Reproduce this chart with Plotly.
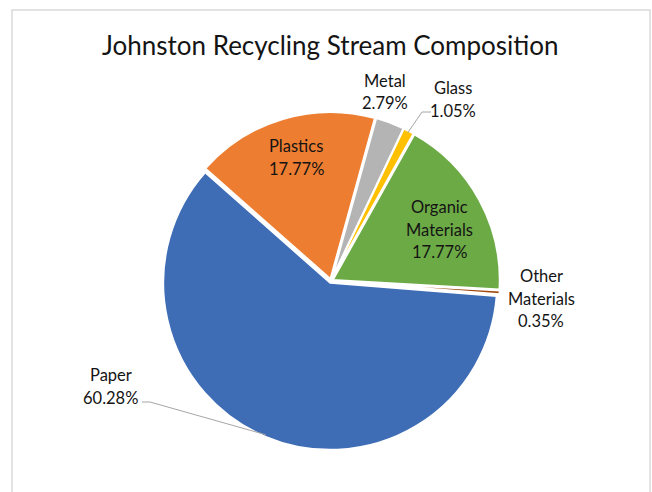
import math
import plotly.graph_objects as go

# Recycling stream composition (percent of total), clockwise from Paper
categories = ["Paper", "Plastics", "Metal", "Glass", "Organic Materials", "Other Materials"]
shares = [60.28, 17.77, 2.79, 1.05, 17.77, 0.35]
colors = ["#3E6DB5", "#ED7D31", "#B4B4B4", "#FFC000", "#6CAA46", "#9E480E"]

W, H = 652, 492
CX, CY, R = 331, 281, 167          # pie centre and radius in pixels
PULL = 0.012
START = 94.5                        # angle (deg, clockwise from 12 o'clock) where Paper starts
FONT = "Lato, Carlito, 'Open Sans', sans-serif"


def px(x):
    return x / W


def py(y):
    return 1 - y / H


def edge_point(i):
    """Point on the rim at the middle of slice i."""
    total = sum(shares)
    before = sum(shares[:i])
    ang = math.radians(START + 360 * (before + shares[i] / 2) / total)
    return CX + R * math.sin(ang), CY - R * math.cos(ang)


half = R * (1 + PULL)
fig = go.Figure(go.Pie(
    labels=categories,
    values=shares,
    sort=False,
    direction="clockwise",
    rotation=START,
    textinfo="none",
    hoverinfo="label+percent",
    pull=[PULL] * len(shares),
    marker=dict(colors=colors, line=dict(color="white", width=2)),
    domain=dict(x=[px(CX - half), px(CX + half)], y=[py(CY + half), py(CY - half)]),
))

# Data labels: name line(s) plus the percentage, centred at (x, first-line y)
label_pos = {
    "Paper": (111, 375, ["Paper"]),
    "Plastics": (296, 146, ["Plastics"]),
    "Metal": (385, 81, ["Metal"]),
    "Glass": (453, 88, ["Glass"]),
    "Organic Materials": (439, 207, ["Organic", "Materials"]),
    "Other Materials": (541, 276, ["Other", "Materials"]),
}
LINE_GAP = 22.5

annotations = []
for name, val in zip(categories, shares):
    x, y, lines = label_pos[name]
    for k, t in enumerate(lines + [f"{val:.2f}%"]):
        annotations.append(dict(
            x=px(x), y=py(y + k * LINE_GAP), xref="paper", yref="paper",
            text=t, showarrow=False, xanchor="center", yanchor="middle",
            font=dict(family=FONT, size=16.5, color="#141414"),
        ))

annotations.append(dict(
    x=px(330), y=py(45), xref="paper", yref="paper",
    text="Johnston Recycling Stream Composition", showarrow=False,
    xanchor="center", yanchor="middle",
    font=dict(family=FONT, size=26, color="#141414"),
))

# Leader lines for the labels set away from their slices
shapes = []
leaders = {"Paper": [(142, 402), (150, 402)], "Glass": [(431, 112), (422, 112)]}
for name, pts in leaders.items():
    ex, ey = edge_point(categories.index(name))
    path = "M " + " L ".join(f"{px(a)},{py(b)}" for a, b in pts + [(ex, ey)])
    shapes.append(dict(type="path", path=path, xref="paper", yref="paper",
                       line=dict(color="#A6A6A6", width=1)))

# Chart frame
shapes.append(dict(type="rect", xref="paper", yref="paper",
                   x0=px(12), x1=px(650), y0=-0.05, y1=py(10),
                   line=dict(color="#D9D9D9", width=1.5)))

fig.update_layout(
    width=W, height=H,
    margin=dict(l=0, r=0, t=0, b=0),
    paper_bgcolor="white",
    showlegend=False,
    annotations=annotations,
    shapes=shapes,
)

fig.write_html("out.html")
